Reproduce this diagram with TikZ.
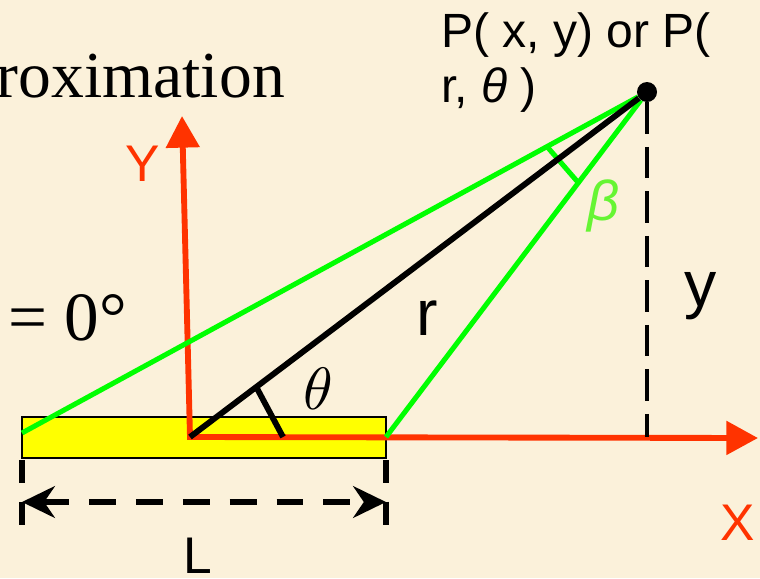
\documentclass[tikz,border=0pt]{standalone}
\usepackage{fontspec}
\usepackage{unicode-math}
\setmainfont{Liberation Serif}
\setsansfont{Liberation Sans}
\setmathfont{Latin Modern Math}
\usetikzlibrary{arrows.meta,calc}
\definecolor{parch}{RGB}{251,241,218}
\definecolor{axisred}{RGB}{255,51,0}
\definecolor{raygreen}{RGB}{0,255,0}
\definecolor{betagreen}{RGB}{102,245,51}
\definecolor{rodyellow}{RGB}{255,255,0}
\tikzset{
  axis/.style={draw=axisred,line width=5pt,line join=miter,
    {Triangle[length=27pt,width=28pt]}-{Triangle[length=27pt,width=28pt]}},
  ray/.style={draw=raygreen,line width=4.3pt},
  rline/.style={draw=black,line width=5pt},
  rodbox/.style={draw=black,fill=rodyellow,line width=0.9pt},
  dot/.style={circle,fill=black,inner sep=0pt,minimum size=0.6cm},
  drop line/.style={draw=black,line width=3.4pt,dash pattern=on 27pt off 11pt},
  ext line/.style={draw=black,line width=4.3pt,dash pattern=on 19.6pt off 16pt},
  dim line/.style={draw=black,line width=5pt,dash pattern=on 23pt off 17pt,
    {Stealth[length=28pt,width=27pt]}-{Stealth[length=28pt,width=27pt]}},
  serif text/.style={font=\rmfamily\fontsize{56}{56}\selectfont,inner sep=0pt},
  zero text/.style={font=\rmfamily\fontsize{59}{59}\selectfont,inner sep=0pt},
  axis label/.style={font=\sffamily\fontsize{44}{44}\selectfont,text=axisred,inner sep=0pt},
  dim label/.style={font=\sffamily\fontsize{44}{44}\selectfont,inner sep=0pt},
  big label/.style={font=\sffamily\fontsize{55}{55}\selectfont,inner sep=0pt},
  theta label/.style={font=\fontsize{51}{51}\selectfont,inner sep=0pt},
  beta label/.style={font=\sffamily\itshape\fontsize{48}{48}\selectfont,text=betagreen,inner sep=0pt},
  ptext/.style={font=\sffamily\fontsize{41}{47}\selectfont,align=left,inner sep=0pt},
}
\begin{document}
\begin{tikzpicture}[x=0.03cm,y=-0.03cm]
  \useasboundingbox (0,0) rectangle (760,578);
  \clip (0,0) rectangle (760,578);
  \fill[parch] (0,0) rectangle (760,578);
  % text cut by the frame
  \node[serif text,anchor=base east] (title) at (285,97) {proximation};
  \node[zero text,anchor=base west] (zero) at (8,340) {= 0°};
  % rod and points
  \draw[rodbox] (22,417) rectangle (386,458);
  \coordinate (rodL) at (22,433);
  \coordinate (rodR) at (386,437);
  \coordinate (O) at (190,437);
  \coordinate (Ytip) at (182,116);
  \coordinate (Xtip) at (758,438);
  \node[dot] (P) at (647,92) {};
  % dimension L
  \coordinate (extL) at (22,460);
  \coordinate (extR) at (386,460);
  \draw[ext line] (extL) -- ++(0,65);
  \draw[ext line] (extR) -- ++(0,65);
  \draw[dim line] (22,502) -- (386,502);
  % axes
  \draw[axis] (Ytip) -- (O) -- (Xtip);
  \draw[drop line] (P) -- (P |- O);
  % rays to P
  \draw[ray] (rodL) -- (P);
  \draw[ray] (rodR) -- (P);
  \draw[ray] ($(P)!0.16!(rodL)$) -- ($(P)!0.263!(rodR)$);
  \draw[rline] (O) -- (P);
  \draw[rline] ($(O)!0.145!(P)$) -- ($(O)+(93,0)$);
  % labels
  \node[axis label] (ylab) at (143,164) {Y};
  \node[axis label] (xlab) at (738,523) {X};
  \node[dim label,anchor=north] (llab) at (198,538) {L};
  \node[big label,anchor=base] (rlab) at (427,335) {r};
  \node[big label,anchor=base] (ylen) at (701,306) {y};
  \node[theta label] (thlab) at (318,389) {$\theta$};
  \node[beta label] (blab) at (604,206) {β};
  \node[ptext,anchor=north west] (pname) at (441,12) {P( x, y) or P(\\r, \textit{θ} )};
\end{tikzpicture}
\end{document}
